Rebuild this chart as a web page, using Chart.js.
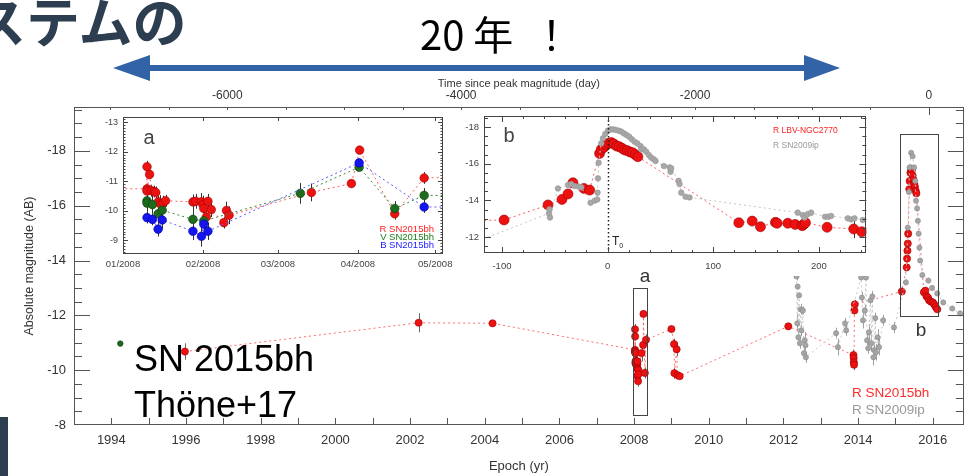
<!DOCTYPE html>
<html><head><meta charset="utf-8">
<script src="https://cdn.jsdelivr.net/npm/chart.js"></script>
<style>
html,body{margin:0;padding:0;background:#fff;width:968px;height:476px;overflow:hidden;position:relative;font-family:"Liberation Sans",Arial,sans-serif;}
canvas{position:absolute;}
.t{position:absolute;white-space:nowrap;line-height:1;}
.c{position:absolute;white-space:nowrap;line-height:1;transform:translate(-50%,-50%);}
.l{position:absolute;white-space:nowrap;line-height:1;transform:translate(0,-50%);}
.r{position:absolute;white-space:nowrap;line-height:1;transform:translate(-100%,-50%);}
</style></head><body>
<canvas id="main" width="968" height="476" style="left:0;top:0"></canvas>
<canvas id="insetA" width="364" height="166" style="left:92px;top:110px;background:#fff"></canvas>
<canvas id="insetB" width="414" height="166" style="left:458px;top:110px;background:#fff"></canvas>

<div class="t" style="left:-28px;top:-20px;font:bold 54px 'Noto Sans CJK JP';color:#2c3e50;">ステムの</div>
<div class="t" style="left:420px;top:4px;font:40px 'Noto Sans CJK JP';color:#000;">20 年<span style="margin-left:18px">！</span></div>
<svg style="position:absolute;left:0;top:0" width="968" height="90">
  <rect x="148" y="65" width="660" height="6" fill="#3263a6"/>
  <polygon points="113,68 150,55 150,81" fill="#3263a6"/>
  <polygon points="840,68 804,55 804,81" fill="#3263a6"/>
</svg>
<div style="position:absolute;left:0;top:417px;width:8px;height:59px;background:#2c3e50"></div>

<div class="t" style="left:134px;top:338px;font:36px 'Liberation Sans';color:#000;">SN 2015bh</div>
<div class="t" style="left:134px;top:384px;font:36px 'Liberation Sans';color:#000;">Thöne+17</div>

<div class="c" style="left:645px;top:276px;font:19px 'Liberation Sans';color:#333;">a</div>
<div class="c" style="left:921px;top:330px;font:19px 'Liberation Sans';color:#333;">b</div>
<div class="l" style="left:852px;top:392px;font:13.5px 'Liberation Sans';color:#ff2a2a;">R SN2015bh</div>
<div class="l" style="left:852px;top:409px;font:13.5px 'Liberation Sans';color:#999;">R SN2009ip</div>

<div class="c" style="left:149px;top:137px;font:20px 'Liberation Sans';color:#444;">a</div>
<div class="r" style="left:434px;top:228px;font:9.5px 'Liberation Sans';color:#ff2020;">R SN2015bh</div>
<div class="r" style="left:434px;top:236px;font:9.5px 'Liberation Sans';color:#1a7a1a;">V SN2015bh</div>
<div class="r" style="left:434px;top:244px;font:9.5px 'Liberation Sans';color:#2020ff;">B SN2015bh</div>

<div class="c" style="left:509px;top:135px;font:20px 'Liberation Sans';color:#444;">b</div>
<div class="l" style="left:773px;top:130px;font:8.5px 'Liberation Sans';color:#ff2020;">R LBV-NGC2770</div>
<div class="l" style="left:773px;top:145px;font:8.5px 'Liberation Sans';color:#999;">R SN2009ip</div>
<div class="t" style="left:612px;top:234px;font:12px 'Liberation Sans';color:#222;">T<sub style="font-size:7px">0</sub></div>

<script>
// ---------- main panel data (Epoch in yr, absolute magnitude) ----------
const mainGreenYears = [1994.24];
const mainGreenMags  = [-10.97];

const mainRYears = [1995.97, 2002.23, 2004.21,
  2008.025, 2008.025, 2008.025, 2008.028, 2008.030, 2008.033, 2008.035, 2008.037, 2008.040, 2008.042, 2008.045,
  2008.074, 2008.077, 2008.083, 2008.085, 2008.086, 2008.088, 2008.090, 2008.093,
  2008.107, 2008.110, 2008.112, 2008.199, 2008.242, 2008.251, 2008.288, 2008.319,
  2009.00, 2009.07, 2009.08, 2009.14, 2009.16, 2009.22,
  2012.13,
  2013.875, 2013.88, 2013.885, 2013.89, 2013.90, 2013.91,
  2015.17, 2015.30, 2015.31, 2015.32, 2015.33, 2015.34,
  2015.37, 2015.38, 2015.40, 2015.42, 2015.44, 2015.46, 2015.48, 2015.50, 2015.52, 2015.54, 2015.56,
  2015.76, 2015.80, 2015.83, 2015.87, 2015.90, 2015.95, 2016.00, 2016.04, 2016.08, 2016.12];
const mainRMags = [-10.68, -11.73, -11.71,
  -10.74, -11.49, -10.67, -11.23, -10.68, -10.65, -10.62, -10.30, -10.23, -10.26, -10.34,
  -10.30, -10.32, -10.30, -10.21, -10.08, -9.79, -10.32, -10.04,
  -9.60, -10.01, -9.85, -10.62, -10.92, -12.05, -9.90, -11.11,
  -11.50, -10.95, -9.89, -10.76, -9.82, -9.78,
  -11.60,
  -10.55, -10.44, -10.29, -10.20, -12.18, -12.40,
  -12.87, -13.75, -14.07, -14.36, -14.62, -14.98,
  -16.60, -16.90, -17.20, -17.35, -17.30, -17.10, -16.95, -16.80, -16.70, -16.55, -16.45,
  -12.84, -12.90, -12.70, -12.65, -12.55, -12.50, -12.47, -12.40, -12.30, -12.22];
const mainRErr = [0.3, 0.35, 0,
  0.15, 0.2, 0.2, 0.15, 0.2, 0.2, 0.2, 0.25, 0.3, 0.25, 0.2,
  0.25, 0.25, 0.3, 0.3, 0.3, 0.3, 0.25, 0.25,
  0.2, 0.3, 0.3, 0.3, 0.1, 0.1, 0.2, 0.2,
  0.1, 0.2, 0.2, 0.25, 0.15, 0.1,
  0.1,
  0.2, 0.2, 0.2, 0.2, 0.15, 0.15,
  0.1, 0, 0, 0, 0, 0,
  0, 0, 0, 0, 0, 0, 0, 0, 0, 0, 0,
  0, 0, 0, 0, 0, 0, 0, 0, 0, 0];

const mainGrayYears = [2012.35, 2012.37, 2012.38, 2012.40, 2012.42, 2012.44, 2012.46, 2012.48, 2012.52, 2012.55, 2012.57, 2012.59, 2012.60,
  2013.41, 2013.46, 2013.65, 2013.68,
  2014.08, 2014.10, 2014.13, 2014.18, 2014.21, 2014.24, 2014.27, 2014.29, 2014.33, 2014.35, 2014.38, 2014.41, 2014.43, 2014.46, 2014.48, 2014.52, 2014.56, 2014.67, 2014.96,
  2015.28, 2015.33, 2015.36, 2015.38, 2015.42, 2015.46, 2015.50, 2015.53, 2015.55, 2015.58, 2015.60, 2015.62, 2015.64, 2015.66, 2015.72,
  2015.88, 2015.98, 2016.12, 2016.28, 2016.52, 2016.73];
const mainGrayMags = [-13.42, -11.71, -13.05, -11.20, -12.73, -10.98, -12.22, -11.45, -12.18, -10.62, -11.09, -10.91, -10.47,
  -11.35, -10.84, -11.71, -11.45,
  -13.38, -12.65, -11.82, -12.18, -13.38, -11.09, -10.80, -11.38, -12.55, -10.98, -12.69, -10.47, -10.73, -11.90, -10.65, -11.20, -10.84, -11.82, -11.56,
  -13.20, -15.20, -16.50, -17.40, -17.93, -17.80, -17.40, -16.90, -16.18, -15.90, -15.45, -14.98, -14.47, -14.00, -13.47,
  -13.27, -13.00, -12.80, -12.47, -12.25, -12.07];
const mainGrayErr = [0.15, 0.3, 0.1, 0.2, 0.1, 0.2, 0.2, 0.2, 0.15, 0.2, 0.3, 0.2, 0.2,
  0.2, 0.3, 0.2, 0.2,
  0.1, 0.2, 0.3, 0.2, 0.1, 0.3, 0.2, 0.3, 0.2, 0.3, 0.2, 0.3, 0.3, 0.2, 0.3, 0.3, 0.3, 0.2, 0.2,
  0.1, 0, 0, 0, 0, 0, 0, 0, 0, 0, 0, 0, 0, 0, 0.1,
  0.1, 0.1, 0.1, 0.1, 0.1, 0.1];

// top axis tick values (days since peak) and annotation boxes (year, magnitude)
const dayTicks = [-7000, -6500, -6000, -5500, -5000, -4500, -4000, -3500, -3000, -2500, -2000, -1500, -1000, -500, 0];
const boxA = {x0: 2007.97, x1: 2008.35, y0: -12.98, y1: -8.36};
const boxB = {x0: 2015.12, x1: 2016.13, y0: -18.62, y1: -11.96};

// ---------- inset a data (days since 01/2008) ----------
const monthStarts = [0, 31, 60, 91, 121];
const monthLabels = ['01/2008', '02/2008', '03/2008', '04/2008', '05/2008'];
const aRDays = [-1365, 9.3, 9.3, 9.3, 10.3, 11.0, 12.0, 12.7, 13.6, 14.5, 15.5, 16.5, 27.1, 28.2, 30.4, 31.0, 31.3, 32.3, 32.9, 34.2, 39.1, 40.1, 41.1, 73.0, 88.5, 91.7, 105.3, 116.7, 366];
const aRMags = [-11.71, -10.74, -11.49, -10.67, -11.23, -10.68, -10.65, -10.62, -10.30, -10.23, -10.26, -10.34, -10.30, -10.32, -10.30, -10.21, -10.08, -9.79, -10.32, -10.04, -9.60, -10.01, -9.85, -10.62, -10.92, -12.05, -9.90, -11.11, -11.50];
const aRErr  = [0, 0.15, 0.2, 0.2, 0.15, 0.2, 0.2, 0.2, 0.25, 0.3, 0.25, 0.2, 0.25, 0.25, 0.3, 0.3, 0.3, 0.3, 0.25, 0.25, 0.2, 0.3, 0.3, 0.3, 0.1, 0.1, 0.2, 0.2, 0];
const aVDays = [9.3, 9.3, 11.4, 13.6, 15.2, 27.1, 31.3, 68.7, 91.5, 105.3, 116.7, 366];
const aVMags = [-10.34, -10.26, -10.21, -9.90, -10.02, -9.71, -9.66, -10.59, -11.47, -10.08, -10.52, -10.50];
const aVErr  = [0.3, 0.3, 0.3, 0.35, 0.35, 0.35, 0.35, 0.35, 0.1, 0.25, 0.25, 0];
const aBDays = [9.3, 11.4, 13.6, 15.2, 27.1, 30.4, 31.3, 32.9, 91.5, 116.7, 366];
const aBMags = [-9.77, -9.71, -9.38, -9.69, -9.31, -9.14, -9.55, -9.31, -11.62, -10.13, -10.00];
const aBErr  = [0.2, 0.2, 0.25, 0.3, 0.3, 0.35, 0.3, 0.3, 0.1, 0.2, 0];

// ---------- inset b data (days since T0) ----------
const T0 = 0;
const bRDays = [-590, -98, -56.4, -43.2, -37.5, -32.8, -22.4, -17.0, -7.6, -6.0, -3.5, -1.3, 0.9, 3.5, 6.0, 8.5, 11.0, 13.6, 16.1, 18.6, 21.1, 23.7, 26.2, 28.7,
  124.2, 136.9, 144.7, 158.9, 160.5, 170.6, 177.5, 184.2, 185.7, 187.3, 207.8, 233.0, 240.6];
const bRMags = [-12.40, -12.93, -13.75, -14.05, -14.35, -14.96, -14.65, -14.56, -16.56, -16.78, -16.89, -17.02, -17.11, -17.15, -17.07, -16.96, -16.93, -16.84, -16.75, -16.71, -16.64, -16.60, -16.49, -16.38,
  -12.78, -12.87, -12.56, -12.80, -12.75, -12.75, -12.69, -12.62, -12.69, -12.78, -12.53, -12.44, -12.29];
const bRErr = [0, 0, 0, 0, 0, 0, 0, 0, 0, 0, 0, 0, 0, 0, 0, 0, 0, 0, 0, 0, 0, 0, 0, 0,
  0, 0, 0.15, 0, 0, 0, 0, 0, 0, 0, 0, 0.5, 0];
const bGDays = [-140, -55.5, -55.0, -54.5, -47, -37.5, -34.4, -31.2, -27.4, -24.9, -16.1, -12.3, -9.8, -9.5, -9.1, -8.5,
  -6.0, -4.4, -2.2, 0.3, 2.8, 5.4, 7.9, 10.4, 12.9, 15.5, 18.0, 20.5, 23.0, 25.5, 28.1, 31.2, 31.8, 34.4, 36.6, 39.1, 41.3, 43.8, 45.4,
  53.3, 58.7, 59.6, 60.2, 67.2, 68.1, 69.7, 73.8, 77.6,
  180.0, 184.8, 186.4, 189.5, 192.7, 205.9, 209.1, 211.6, 227.4, 230.5, 233.7, 241.6];
const bGMags = [-11.40, -13.29, -13.51, -13.07, -14.65, -14.84, -14.89, -14.78, -14.75, -14.71, -13.87, -13.98, -14.05, -14.42, -15.20, -16.05,
  -17.11, -17.38, -17.62, -17.80, -17.87, -17.87, -17.84, -17.80, -17.75, -17.65, -17.56, -17.47, -17.33, -17.20, -17.11, -16.96, -16.78, -16.78, -16.65, -16.47, -16.33, -16.24, -16.15,
  -15.87, -15.80, -15.56, -15.75, -15.07, -14.89, -14.42, -14.20, -14.16,
  -13.33, -13.20, -13.07, -13.25, -13.33, -13.11, -13.11, -13.15, -13.02, -12.96, -13.02, -12.93];

// ---------- helpers ----------
Chart.defaults.font.family = '"Liberation Sans", Arial, sans-serif';
Chart.defaults.color = '#333';

const pts = (xs, ys) => xs.map((x, i) => ({x: x, y: ys[i]}));
const isMult = (v, s) => Math.abs(v / s - Math.round(v / s)) < 1e-6;
const lbl = step => v => (isMult(v, step) ? String(Math.round(v) === 0 ? 0 : Math.round(v)) : '');
const fix = (prop, val) => s => { s[prop] = val; s.paddingLeft = 0; s.paddingRight = 0; s.paddingTop = 0; s.paddingBottom = 0; };
const noGrid = {display: false, drawTicks: false, tickLength: 0};

function series(xs, ys, errs, o) {
  return Object.assign({data: pts(xs, ys), errors: errs, showLine: true, borderDash: [2, 3], borderWidth: 1, pointBorderWidth: 0.6, pointHoverRadius: 0}, o);
}

const errorBars = {
  id: 'errorBars',
  beforeDatasetsDraw(chart) {
    const {ctx, chartArea: ca} = chart;
    ctx.save();
    ctx.beginPath(); ctx.rect(ca.left, ca.top, ca.width, ca.height); ctx.clip();
    chart.data.datasets.forEach((ds, i) => {
      if (!ds.errors) return;
      const meta = chart.getDatasetMeta(i);
      const xs = chart.scales[meta.xAxisID], ys = chart.scales[meta.yAxisID];
      ctx.strokeStyle = ds.errorColor || '#444';
      ctx.lineWidth = 1;
      ds.data.forEach((p, j) => {
        const e = ds.errors[j];
        if (!e) return;
        const x = Math.round(xs.getPixelForValue(p.x)) + 0.5;
        ctx.beginPath();
        ctx.moveTo(x, ys.getPixelForValue(p.y - e));
        ctx.lineTo(x, ys.getPixelForValue(p.y + e));
        ctx.stroke();
      });
    });
    ctx.restore();
  }
};

function makeFrame(cfg) {
  return {
    id: 'frame',
    afterDatasetsDraw(chart) {
      const {ctx, chartArea: ca} = chart;
      const line = (a, b, c, d) => { ctx.beginPath(); ctx.moveTo(a, b); ctx.lineTo(c, d); ctx.stroke(); };
      ctx.save();
      if (cfg.vline) {
        const s = chart.scales[cfg.vline.axis];
        const px = Math.round(s.getPixelForValue(cfg.vline.value)) + 0.5;
        ctx.setLineDash([1.5, 2.5]); ctx.strokeStyle = '#222'; ctx.lineWidth = 1.5;
        line(px, ca.top, px, ca.bottom);
        ctx.setLineDash([]);
      }
      ctx.strokeStyle = cfg.color; ctx.lineWidth = 1;
      ctx.strokeRect(Math.round(ca.left) + 0.5, Math.round(ca.top) + 0.5, Math.round(ca.width) - 1, Math.round(ca.height) - 1);
      for (const id in cfg.ticks) {
        const o = cfg.ticks[id], s = chart.scales[id];
        for (const t of s.ticks) {
          const v = t.value;
          const maj = isMult(v, o.major), mnr = isMult(v, o.minor);
          if (!maj && !mnr) continue;
          const len = maj ? o.majorLen : o.minorLen;
          const p = Math.round(s.getPixelForValue(v)) + 0.5;
          if (s.isHorizontal()) {
            if (p < ca.left + 1 || p > ca.right - 1) continue;
            if (o.bottom) line(p, ca.bottom, p, ca.bottom - len);
            if (o.top) line(p, ca.top, p, ca.top + len);
          } else {
            if (p < ca.top + 1 || p > ca.bottom - 1) continue;
            if (o.left) line(ca.left, p, ca.left + len, p);
            if (o.right) line(ca.right, p, ca.right - len, p);
          }
        }
      }
      (cfg.boxes || []).forEach(b => {
        const xs = chart.scales.x, ys = chart.scales.y;
        const x0 = Math.round(xs.getPixelForValue(b.x0)) + 0.5, x1 = Math.round(xs.getPixelForValue(b.x1)) + 0.5;
        const y0 = Math.round(ys.getPixelForValue(b.y0)) + 0.5, y1 = Math.round(ys.getPixelForValue(b.y1)) + 0.5;
        ctx.strokeStyle = '#444';
        ctx.strokeRect(Math.min(x0, x1), Math.min(y0, y1), Math.abs(x1 - x0), Math.abs(y1 - y0));
      });
      ctx.restore();
    }
  };
}

const common = {responsive: false, animation: false, events: [], plugins: {legend: {display: false}, tooltip: {enabled: false}}};

// ---------- main chart ----------
new Chart(document.getElementById('main'), {
  type: 'scatter',
  data: {datasets: [
    series(mainGrayYears, mainGrayMags, mainGrayErr, {borderColor: '#c8c8c8', pointBackgroundColor: '#a5a5a5', pointBorderColor: '#8c8c8c', pointRadius: 2.6, errorColor: '#a0a0a0'}),
    series(mainRYears, mainRMags, mainRErr, {borderColor: '#ff6a6a', pointBackgroundColor: '#ee1111', pointBorderColor: '#a00000', pointRadius: 3.6, errorColor: '#666'}),
    series(mainGreenYears, mainGreenMags, null, {showLine: false, pointBackgroundColor: '#1d661d', pointBorderColor: '#144d14', pointRadius: 2.8})
  ]},
  options: Object.assign({}, common, {
    layout: {padding: {top: 75, left: 0, right: 0, bottom: 0}},
    scales: {
      x: {type: 'linear', position: 'bottom', min: 1993, max: 2016.83,
        grid: noGrid, border: {display: false},
        ticks: {stepSize: 1, includeBounds: false, autoSkip: false, maxRotation: 0, padding: 8, font: {size: 13}, color: '#333', callback: lbl(2)},
        title: {display: true, text: 'Epoch (yr)', font: {size: 13}, color: '#333', padding: {top: 0, bottom: 2}},
        afterFit: fix('height', 51)},
      xTop: {type: 'linear', axis: 'x', position: 'top', min: -7311, max: 298,
        grid: noGrid, border: {display: false},
        afterBuildTicks: s => { s.ticks = dayTicks.map(v => ({value: v})); },
        ticks: {autoSkip: false, maxRotation: 0, padding: 4, font: {size: 12}, color: '#333', callback: lbl(2000)},
        title: {display: true, text: 'Time since peak magnitude (day)', font: {size: 11}, color: '#333', padding: {top: 2, bottom: 0}},
        afterFit: fix('height', 32)},
      y: {type: 'linear', position: 'left', min: -19.6, max: -8, reverse: true,
        grid: noGrid, border: {display: false},
        ticks: {stepSize: 0.5, includeBounds: false, autoSkip: false, padding: 8, font: {size: 13}, color: '#333', callback: lbl(2)},
        title: {display: true, text: 'Absolute magnitude (AB)', font: {size: 12.5}, color: '#333', padding: {top: 22, bottom: 0}},
        afterFit: fix('width', 74)}
    }
  }),
  plugins: [errorBars, makeFrame({
    color: '#555',
    ticks: {
      x: {major: 2, minor: 1, majorLen: 7, minorLen: 7, bottom: true},
      xTop: {major: 2000, minor: 500, majorLen: 8, minorLen: 4, top: true},
      y: {major: 2, minor: 0.5, majorLen: 16, minorLen: 8, left: true, right: true}
    },
    boxes: [boxA, boxB]
  })]
});

// ---------- inset a ----------
new Chart(document.getElementById('insetA'), {
  type: 'scatter',
  data: {datasets: [
    series(aBDays, aBMags, aBErr, {borderColor: '#5a5aff', pointBackgroundColor: '#1515ee', pointBorderColor: '#0000a0', pointRadius: 4.3, errorColor: '#333'}),
    series(aVDays, aVMags, aVErr, {borderColor: '#3a8a3a', pointBackgroundColor: '#1d6b1d', pointBorderColor: '#0f400f', pointRadius: 4.3, errorColor: '#333'}),
    series(aRDays, aRMags, aRErr, {borderColor: '#ff6060', pointBackgroundColor: '#ee1111', pointBorderColor: '#a00000', pointRadius: 4.3, errorColor: '#333'})
  ]},
  options: Object.assign({}, common, {
    layout: {padding: {top: 7, left: 0, right: 13, bottom: 0}},
    scales: {
      x: {type: 'linear', min: 0, max: 124, grid: noGrid, border: {display: false},
        afterBuildTicks: s => { s.ticks = monthStarts.map(v => ({value: v})); },
        ticks: {autoSkip: false, maxRotation: 0, padding: 5, font: {size: 9.5}, color: '#444',
          callback: v => { const i = monthStarts.indexOf(v); return i >= 0 ? monthLabels[i] : ''; }},
        afterFit: fix('height', 22)},
      y: {type: 'linear', min: -13.17, max: -8.54, reverse: true, grid: noGrid, border: {display: false},
        ticks: {stepSize: 0.1, includeBounds: false, autoSkip: false, padding: 5, font: {size: 9}, color: '#444', callback: lbl(1)},
        afterFit: fix('width', 31)}
    }
  }),
  plugins: [errorBars, makeFrame({
    color: '#444',
    ticks: {
      x: {major: 1, minor: 1, majorLen: 4, minorLen: 4, bottom: true, top: true},
      y: {major: 1, minor: 0.1, majorLen: 5, minorLen: 2.5, left: true, right: true}
    }
  })]
});

// ---------- inset b ----------
new Chart(document.getElementById('insetB'), {
  type: 'scatter',
  data: {datasets: [
    series(bGDays, bGMags, null, {borderColor: '#c4c4c4', pointBackgroundColor: '#a8a8a8', pointBorderColor: '#959595', pointRadius: 2.8}),
    series(bRDays, bRMags, bRErr, {borderColor: '#ff5a5a', pointBackgroundColor: '#ee1111', pointBorderColor: '#a00000', pointRadius: 5, errorColor: '#333'})
  ]},
  options: Object.assign({}, common, {
    layout: {padding: {top: 6, left: 0, right: 4, bottom: 0}},
    scales: {
      x: {type: 'linear', min: -117, max: 245, grid: noGrid, border: {display: false},
        ticks: {stepSize: 20, includeBounds: false, autoSkip: false, maxRotation: 0, padding: 8, font: {size: 9.5}, color: '#444', callback: lbl(100)},
        afterFit: fix('height', 23)},
      y: {type: 'linear', min: -18.6, max: -11.13, reverse: true, grid: noGrid, border: {display: false},
        ticks: {stepSize: 0.5, includeBounds: false, autoSkip: false, padding: 5, font: {size: 9.5}, color: '#444', callback: lbl(2)},
        afterFit: fix('width', 26)}
    }
  }),
  plugins: [errorBars, makeFrame({
    color: '#444',
    vline: {axis: 'x', value: T0},
    ticks: {
      x: {major: 100, minor: 20, majorLen: 6, minorLen: 3, bottom: true, top: true},
      y: {major: 2, minor: 0.5, majorLen: 7, minorLen: 4, left: true, right: true}
    }
  })]
});
</script>
</body></html>
